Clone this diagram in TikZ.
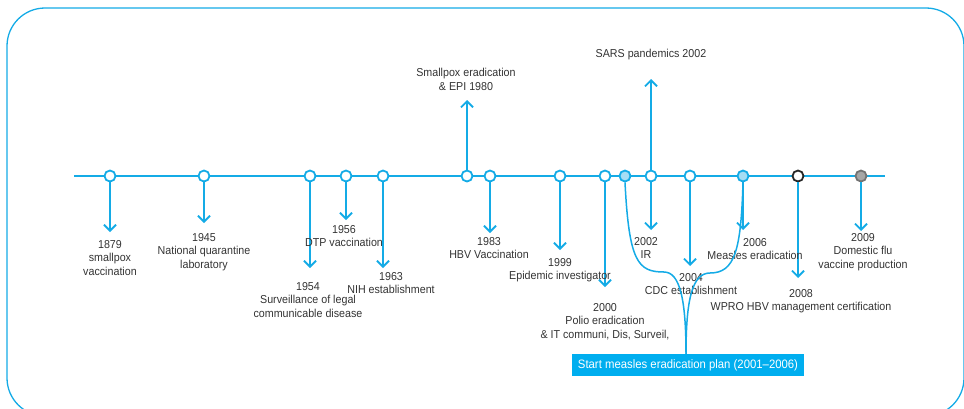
\documentclass[tikz,border=0pt]{standalone}
\usepackage{fontspec}
\setmainfont{Liberation Sans}[FakeStretch=0.93]
\usetikzlibrary{arrows.meta}
\definecolor{tlblue}{HTML}{14ABE6}
\definecolor{tlfill}{HTML}{00AEEF}
\definecolor{tllight}{HTML}{A6DDF4}
\definecolor{tltext}{HTML}{333333}
\begin{document}
\begin{tikzpicture}[x=1pt,y=-1pt,
  axis/.style={draw=tlblue,line width=2pt},
  evt/.style={circle,draw=tlblue,line width=1.8pt,fill=white,minimum size=11pt,inner sep=0pt},
  evtlight/.style={evt,fill=tllight},
  evtblack/.style={evt,draw=black!85},
  evtgray/.style={evt,draw=black!55,fill=black!35},
  pin/.style={draw=tlblue,line width=1.8pt,-{Straight Barb[length=6pt,width=12pt,line width=1.8pt]}},
  brace/.style={draw=tlblue,line width=1.5pt},
  lbl/.style={anchor=north,inner sep=0pt,align=center,text=tltext,
    font=\fontsize{11.5}{13.5}\selectfont},
  plan/.style={fill=tlfill,text=white,inner sep=0pt,minimum width=232pt,minimum height=22pt,
    font=\fontsize{12.2}{14}\selectfont}]
\useasboundingbox (0,0) rectangle (964,408);
% outer frame
\draw[draw=tlblue,line width=1.3pt,rounded corners=38pt] (7,8) rectangle (964,416);

% time axis
\coordinate (axL) at (74,176);
\coordinate (axR) at (885,176);
\draw[axis] (axL) -- (axR);

% events on the axis
\node[evt] (e1879) at (110,176) {};
\node[evt] (e1945) at (204,176) {};
\node[evt] (e1954) at (310,176) {};
\node[evt] (e1956) at (346,176) {};
\node[evt] (e1963) at (383,176) {};
\node[evt] (e1980) at (467,176) {};
\node[evt] (e1983) at (490,176) {};
\node[evt] (e1999) at (560,176) {};
\node[evt] (e2000) at (605,176) {};
\node[evtlight] (e2001) at (625,176) {};
\node[evt] (e2002) at (651,176) {};
\node[evt] (e2004) at (690,176) {};
\node[evtlight] (e2006) at (743,176) {};
\node[evtblack] (e2008) at (798,176) {};
\node[evtgray] (e2009) at (861,176) {};

% arrow tips
\coordinate (t1879) at (110,232);
\coordinate (t1945) at (204,223);
\coordinate (t1954) at (310,268);
\coordinate (t1956) at (346,220);
\coordinate (t1963) at (383,268);
\coordinate (t1980) at (467,100);
\coordinate (t1983) at (490,233);
\coordinate (t1999) at (560,250);
\coordinate (t2000) at (605,287);
\coordinate (t2002u) at (651,79);
\coordinate (t2002) at (651,230);
\coordinate (t2004) at (690,266);
\coordinate (t2006) at (743,230);
\coordinate (t2008) at (798,278);
\coordinate (t2009) at (861,231);

\foreach \e in {1879,1945,1954,1956,1963,1983,1999,2000,2004,2006,2008,2009}
  \draw[pin] (e\e.south) -- (t\e);
\draw[pin] (e1980.north) -- (t1980);
\draw[pin] (e2002.north) -- (t2002u);
\draw[pin] (e2002.south) -- (t2002);

% labels
\node[lbl] (l1879) at (110,240) {1879\\smallpox\\vaccination};
\node[lbl] (l1945) at (204,233) {1945\\National quarantine\\laboratory};
\node[lbl] (l1954) at (308,282) {1954\\Surveillance of legal\\communicable disease};
\node[lbl] (l1956) at (344,225) {1956\\DTP vaccination};
\node[lbl] (l1963) at (391,272) {1963\\NIH establishment};
\node[lbl] (l1980) at (466,68) {Smallpox eradication\\\& EPI 1980};
\node[lbl] (l1983) at (489,237) {1983\\HBV Vaccination};
\node[lbl] (l1999) at (560,258) {1999\\Epidemic investigator};
\node[lbl] (l2000) at (605,303) {2000\\Polio eradication\\\& IT communi, Dis, Surveil,};
\node[lbl] (l2002u) at (651,49) {SARS pandemics 2002};
\node[lbl] (l2002) at (646,237) {2002\\IR};
\node[lbl] (l2004) at (691,273) {2004\\CDC establishment};
\node[lbl] (l2006) at (755,238) {2006\\Measles eradication};
\node[lbl] (l2008) at (801,289) {2008\\WPRO HBV management certification};
\node[lbl] (l2009) at (863,233) {2009\\Domestic flu\\vaccine production};

% measles eradication plan bracket
\node[plan] (plan) at (688,365) {Start measles eradication plan (2001--2006)};
\coordinate (join) at (686,354);
\draw[brace] (e2001.south) .. controls (629,262) and (638,272) .. (664,272)
  .. controls (680,272) and (686,300) .. (join);
\draw[brace] (e2006.south) .. controls (741,250) and (735,273) .. (710,273)
  .. controls (692,273) and (686,300) .. (join);
\end{tikzpicture}
\end{document}
